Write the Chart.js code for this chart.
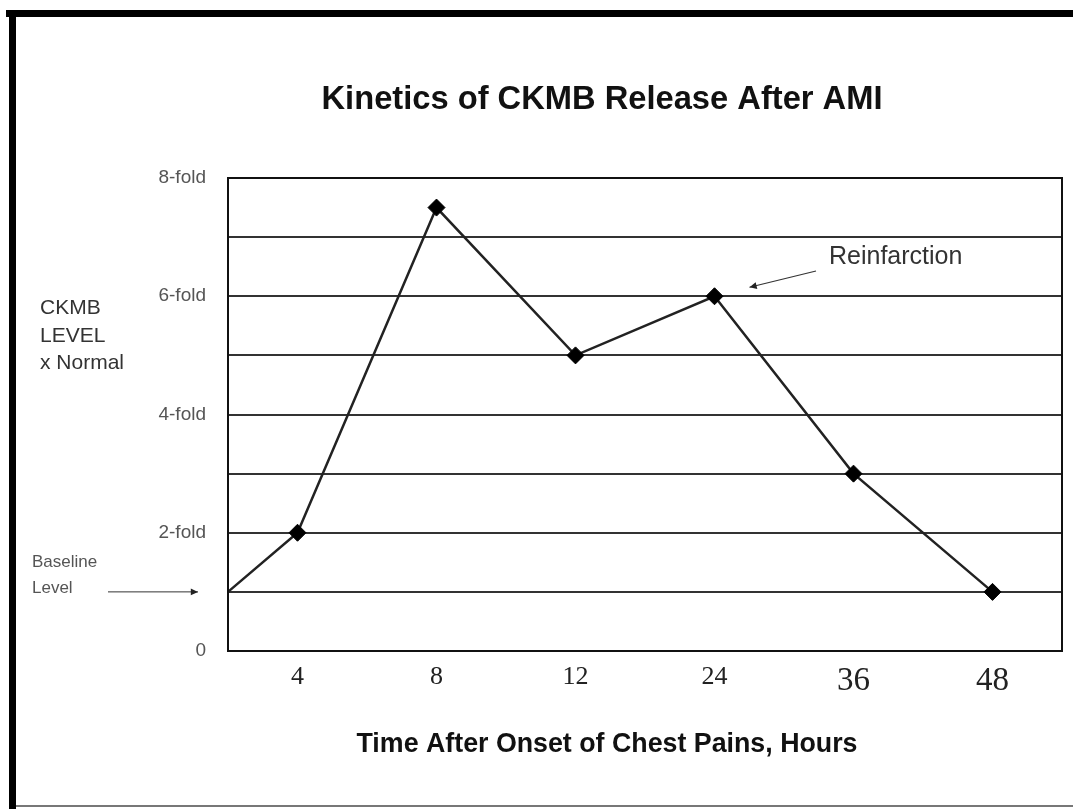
<!DOCTYPE html>
<html>
<head>
<meta charset="utf-8">
<style>
  html, body { margin: 0; padding: 0; background: #ffffff; }
  #c { display: block; }
</style>
<script src="https://cdn.jsdelivr.net/npm/chart.js@4/dist/chart.umd.min.js"></script>
</head>
<body>
<canvas id="c" width="1073" height="809"></canvas>
<script>
// ---- data ----
const categories = ['4', '8', '12', '24', '36', '48'];          // hours after onset
const ckmbLevels = [2, 7.5, 5, 6, 3, 1];                          // x normal
const baselineLevel = 1;                                          // level at onset
const yTickLabels = ['0', '', '2-fold', '', '4-fold', '', '6-fold', '', '8-fold'];

const chartTitle = 'Kinetics of CKMB Release After AMI';
const xTitle = 'Time After Onset of Chest Pains, Hours';
const yTitleLines = ['CKMB', 'LEVEL', 'x Normal'];
const baselineNote = ['Baseline', 'Level'];
const reinfarctionNote = 'Reinfarction';

const points = [{ x: 0, y: baselineLevel }].concat(
  ckmbLevels.map((v, i) => ({ x: i + 0.5, y: v }))
);

const SANS = '"Liberation Sans", Arial, sans-serif';
const SERIF = '"Liberation Serif", "Times New Roman", serif';

function arrow(ctx, x1, y1, x2, y2, head) {
  ctx.beginPath();
  ctx.moveTo(x1, y1);
  ctx.lineTo(x2, y2);
  ctx.stroke();
  const a = Math.atan2(y2 - y1, x2 - x1);
  ctx.beginPath();
  ctx.moveTo(x2, y2);
  ctx.lineTo(x2 - head * Math.cos(a - 0.45), y2 - head * Math.sin(a - 0.45));
  ctx.lineTo(x2 - head * Math.cos(a + 0.45), y2 - head * Math.sin(a + 0.45));
  ctx.closePath();
  ctx.fill();
}

// draw text centred at (cx, cy), horizontally fitted to width w
function fitText(ctx, t, cx, cy, w) {
  const m = ctx.measureText(t).width;
  ctx.save();
  ctx.translate(cx, cy);
  ctx.scale(w / m, 1);
  ctx.textAlign = 'center';
  ctx.fillText(t, 0, 0);
  ctx.restore();
}

const decor = {
  id: 'decor',
  beforeDraw(chart) {
    const ctx = chart.ctx;
    ctx.save();
    ctx.fillStyle = '#ffffff';
    ctx.fillRect(0, 0, chart.width, chart.height);
    // frame
    ctx.fillStyle = '#000';
    ctx.fillRect(6, 10, chart.width - 6, 7);
    ctx.fillRect(9, 10, 7, chart.height - 10);
    ctx.fillStyle = '#777';
    ctx.fillRect(16, 805, chart.width - 16, 2);
    ctx.restore();
  },
  afterDatasetsDraw(chart) {
    const ctx = chart.ctx;
    const a = chart.chartArea;
    const xs = chart.scales.x, ys = chart.scales.y;
    ctx.save();
    // plot frame
    ctx.strokeStyle = '#111';
    ctx.lineWidth = 2;
    ctx.strokeRect(a.left, a.top, a.right - a.left, a.bottom - a.top);

    // title
    ctx.fillStyle = '#111';
    ctx.textBaseline = 'middle';
    ctx.font = 'bold 33px ' + SANS;
    fitText(ctx, chartTitle, 602, 100, 561);

    // x title
    ctx.font = 'bold 27px ' + SANS;
    fitText(ctx, xTitle, 607, 745, 501);

    // y title
    ctx.textAlign = 'left';
    ctx.fillStyle = '#333';
    ctx.font = '21px ' + SANS;
    const yl = [308, 336, 363];
    yTitleLines.forEach((t, i) => ctx.fillText(t, 40, yl[i]));

    // baseline note
    ctx.font = '17px ' + SANS;
    ctx.fillStyle = '#555';
    ctx.fillText(baselineNote[0], 32, 562);
    ctx.fillText(baselineNote[1], 32, 588);
    ctx.strokeStyle = '#333';
    ctx.fillStyle = '#222';
    ctx.lineWidth = 1;
    const yb = ys.getPixelForValue(baselineLevel);
    arrow(ctx, 108, yb, 198, yb, 8);

    // reinfarction note
    ctx.fillStyle = '#333';
    ctx.font = '25px ' + SANS;
    ctx.fillText(reinfarctionNote, 829, 257);
    const px = xs.getPixelForValue(3.5), py = ys.getPixelForValue(ckmbLevels[3]);
    ctx.fillStyle = '#222';
    ctx.lineWidth = 1.2;
    arrow(ctx, 816, 271, px + 35, py - 9, 8);
    ctx.restore();
  }
};

new Chart(document.getElementById('c'), {
  type: 'line',
  data: {
    datasets: [{
      data: points,
      borderColor: '#222',
      borderWidth: 2.5,
      pointStyle: 'rectRot',
      pointRadius: (c) => (c.dataIndex === 0 ? 0 : 8.5),
      pointBackgroundColor: '#000',
      pointBorderColor: '#000',
      pointBorderWidth: 1,
      tension: 0,
      fill: false,
      clip: false
    }]
  },
  options: {
    responsive: false,
    devicePixelRatio: 1,
    animation: false,
    events: [],
    layout: { padding: { top: 178, right: 11, bottom: 0, left: 0 } },
    plugins: { legend: { display: false }, title: { display: false }, tooltip: { enabled: false } },
    scales: {
      x: {
        type: 'linear',
        min: 0,
        max: categories.length,
        afterBuildTicks: (s) => { s.ticks = categories.map((c, i) => ({ value: i + 0.5 })); },
        afterFit: (s) => { s.height = 158; },
        grid: { display: false, drawTicks: false },
        border: { display: true, color: '#111', width: 2 },
        ticks: {
          autoSkip: false,
          maxRotation: 0,
          padding: 11,
          color: '#222',
          font: (c) => (c.index >= 4 ? { family: SERIF, size: 33 } : { family: SERIF, size: 26 }),
          callback: (v, i) => categories[i]
        }
      },
      y: {
        min: 0,
        max: 8,
        afterFit: (s) => { s.width = 228; },
        grid: { color: '#333', lineWidth: 2, drawTicks: false },
        border: { display: true, color: '#111', width: 2 },
        ticks: {
          stepSize: 1,
          autoSkip: false,
          padding: 22,
          color: '#555',
          font: { family: SANS, size: 19 },
          callback: (v, i) => yTickLabels[i]
        }
      }
    }
  },
  plugins: [decor]
});
</script>
</body>
</html>
